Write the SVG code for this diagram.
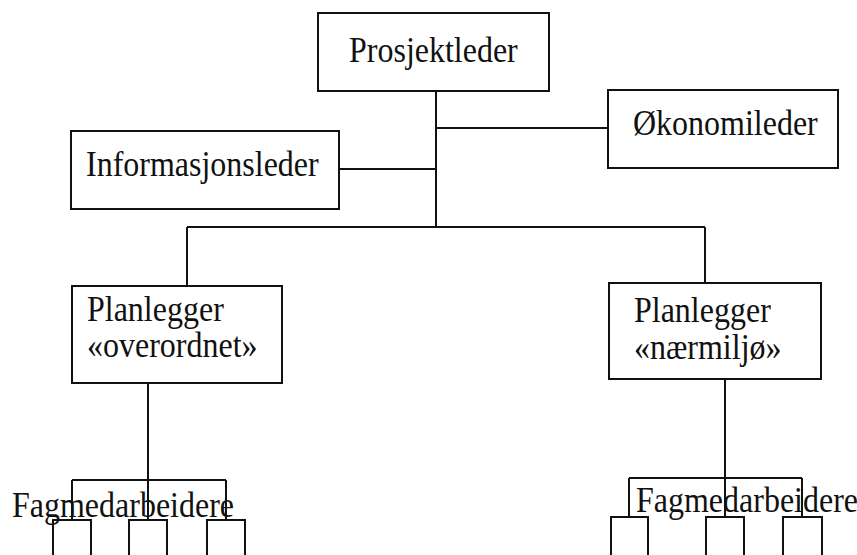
<svg xmlns="http://www.w3.org/2000/svg" width="857" height="555" viewBox="0 0 857 555">
<style>
.box{fill:#fff;stroke:#111;stroke-width:2}
.ln{fill:none;stroke:#111;stroke-width:2}
text{font-family:"Liberation Serif","Times New Roman",serif;font-size:32px;fill:#111}
</style>
<rect width="857" height="555" fill="#fff"/>
<g id="connectors">
<path class="ln" d="M436,91 V227 M339,169 H436 M436,128 H608 M187,227 H705 M187,227 V286 M705,227 V283"/>
<path class="ln" d="M148,383 V520 M72,480 H226 M72,480 V520 M226,480 V520"/>
<path class="ln" d="M725,379 V517 M629,478 H802 M629,478 V517 M802,478 V517"/>
</g>
<g id="prosjektleder"><rect class="box" x="318" y="13" width="231" height="78"/><text transform="translate(349,62) scale(1,1.15)">Prosjektleder</text></g>
<g id="informasjonsleder"><rect class="box" x="71" y="131" width="268" height="78"/><text transform="translate(86,176) scale(1,1.15)">Informasjonsleder</text></g>
<g id="okonomileder"><rect class="box" x="608" y="90" width="230" height="78"/><text transform="translate(633,135) scale(1,1.15)">Økonomileder</text></g>
<g id="planlegger-overordnet"><rect class="box" x="72" y="286" width="210" height="97"/><text transform="translate(87,321) scale(1,1.15)">Planlegger</text><text transform="translate(87,357) scale(1,1.15)">«overordnet»</text></g>
<g id="planlegger-naermiljo"><rect class="box" x="609" y="283" width="212" height="96"/><text transform="translate(634,322) scale(1,1.15)">Planlegger</text><text transform="translate(634,359) scale(1,1.15)">«nærmiljø»</text></g>
<g id="fag-left">
<rect class="box" x="53" y="520" width="38" height="45"/>
<rect class="box" x="129" y="520" width="38" height="45"/>
<rect class="box" x="207" y="520" width="38" height="45"/>
<text transform="translate(12,517) scale(1,1.15)">Fagmedarbeidere</text>
</g>
<g id="fag-right">
<rect class="box" x="611" y="517" width="37" height="48"/>
<rect class="box" x="706" y="517" width="38" height="48"/>
<rect class="box" x="783" y="517" width="39" height="48"/>
<text transform="translate(636,512) scale(1,1.15)">Fagmedarbeidere</text>
</g>
</svg>
